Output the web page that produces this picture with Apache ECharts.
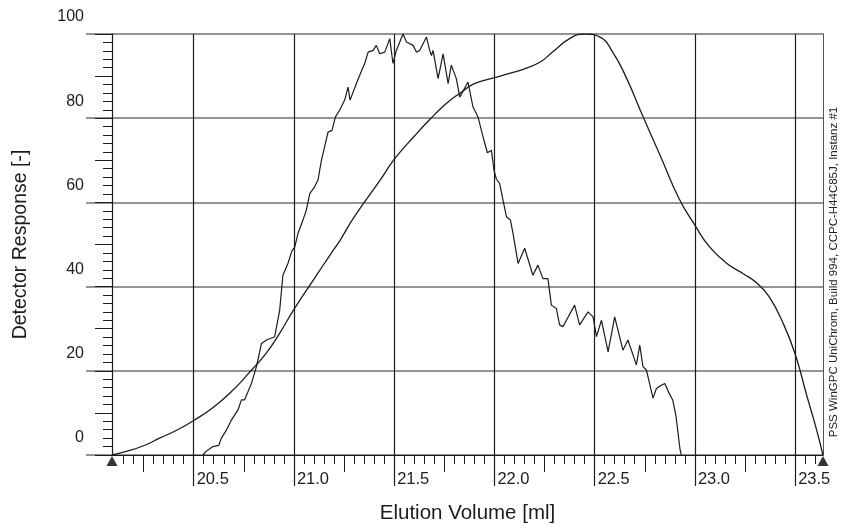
<!DOCTYPE html>
<html>
<head>
<meta charset="utf-8">
<script src="https://cdn.jsdelivr.net/npm/echarts@6/dist/echarts.min.js"></script>
<style>
  html, body { margin: 0; padding: 0; background: #fff; }
  #chart { width: 843px; height: 531px; }
</style>
</head>
<body>
<div id="chart"></div>
<script>
// Axis extents
const volumeRange = [20.0925, 23.639];
const responseRange = [0, 100];

// Tick positions and labels on the elution volume axis
const xMajorTicks = [20.5, 21.0, 21.5, 22.0, 22.5, 23.0, 23.5];
const xMidTicks = [20.25, 20.75, 21.25, 21.75, 22.25, 22.75, 23.25];
const xMinorStep = 0.05;
const xMinorFirst = 20.15;
const xMinorLast = 23.6;

// Response axis ticks
const yMajorStep = 20;
const yMidStep = 10;

// Smooth trace
const smoothVolume = [
  20.0925, 20.16, 20.25, 20.33, 20.42, 20.5, 20.6, 20.7, 20.77, 20.86,
  20.93, 21.0, 21.1, 21.18, 21.23, 21.3, 21.43, 21.5, 21.6, 21.68,
  21.76, 21.83, 21.9, 21.99, 22.08, 22.16, 22.23, 22.29, 22.375, 22.45,
  22.525, 22.59, 22.66, 22.74, 22.83, 22.92, 23.0, 23.07, 23.16, 23.24,
  23.31, 23.37, 23.44, 23.5, 23.56, 23.6, 23.639
];
const smoothResponse = [
  0, 0.8, 2.2, 4.0, 6.0, 8.2, 11.4, 15.6, 19.2, 24.1,
  29.0, 34.6, 41.8, 47.5, 51.0, 56.5, 65.3, 70.2, 75.7, 79.8,
  83.5, 86.0, 88.2, 89.5, 90.7, 91.9, 93.4, 95.7, 98.9, 100,
  99.3, 95.7, 89.4, 80.5, 70.8, 61.0, 54.6, 49.6, 45.5, 43.1,
  40.8, 37.6, 31.3, 24.0, 13.8, 7.2, 0
];

// Noisy trace
const noisyVolume = [
  20.546, 20.56, 20.596, 20.625, 20.638, 20.663, 20.688, 20.721, 20.738, 20.754,
  20.788, 20.813, 20.838, 20.863, 20.904, 20.912, 20.929, 20.945, 20.97, 20.99,
  21.004, 21.02, 21.045, 21.062, 21.079, 21.103, 21.12, 21.137, 21.153, 21.17,
  21.19, 21.207, 21.228, 21.253, 21.27, 21.28, 21.311, 21.328, 21.353, 21.37,
  21.395, 21.411, 21.428, 21.453, 21.478, 21.494, 21.511, 21.544, 21.561, 21.594,
  21.611, 21.627, 21.644, 21.661, 21.677, 21.686, 21.694, 21.719, 21.744, 21.769,
  21.785, 21.81, 21.827, 21.868, 21.893, 21.918, 21.943, 21.965, 21.985, 21.998,
  22.01, 22.026, 22.043, 22.06, 22.08, 22.093, 22.118, 22.151, 22.192, 22.217,
  22.242, 22.267, 22.284, 22.309, 22.325, 22.342, 22.359, 22.4, 22.425, 22.467,
  22.492, 22.509, 22.534, 22.567, 22.6, 22.641, 22.666, 22.708, 22.725, 22.741,
  22.758, 22.791, 22.808, 22.83, 22.85, 22.868, 22.89, 22.906, 22.925, 22.932
];
const noisyResponse = [
  0, 0.8, 2.0, 2.3, 4.0, 5.9, 8.3, 10.7, 13.1, 13.1,
  17.0, 21.0, 26.5, 27.3, 28.1, 27.7, 34.4, 42.7, 45.5, 48.5,
  49.4, 52.6, 55.8, 58.2, 62.1, 63.7, 65.3, 70.0, 73.2, 76.7,
  77.1, 80.3, 81.9, 84.3, 87.4, 84.3, 88.2, 90.2, 93.0, 95.7,
  96.1, 97.3, 95.3, 95.7, 98.9, 93.0, 96.1, 100, 98.1, 97.3,
  95.7, 96.1, 97.7, 99.3, 96.1, 94.9, 96.1, 89.4, 95.3, 88.2,
  92.6, 89.4, 85.0, 88.6, 82.7, 80.3, 75.6, 71.8, 72.4, 67.6,
  65.5, 64.5, 60.5, 56.6, 55.8, 52.6, 45.5, 49.1, 42.7, 45.1,
  41.9, 41.9, 35.6, 34.8, 30.9, 30.5, 32.0, 35.6, 30.9, 34.0,
  32.8, 28.1, 32.0, 24.5, 32.8, 24.9, 27.3, 21.4, 26.1, 21.0,
  20.2, 13.5, 15.8, 16.5, 17.0, 15.0, 13.0, 9.1, 1.6, 0
];

const infoText = 'PSS WinGPC UniChrom, Build 994, CCPC-H44C85J, Instanz #1';
const xTitle = 'Elution Volume [ml]';
const yTitle = 'Detector Response [-]';

// ---- build ----
const FONT = '"Liberation Sans", Arial, Helvetica, sans-serif';
const INK = '#1c1c1c';
const GRID_GRAY = '#707070';

const zip = (xs, ys) => xs.map((x, i) => [x, ys[i]]);

const xMinorTicks = [];
for (let k = 0; ; k++) {
  const v = Math.round((xMinorFirst + k * xMinorStep) * 1000) / 1000;
  if (v > xMinorLast + 1e-9) break;
  xMinorTicks.push(v);
}

const baseX = {
  type: 'value',
  gridIndex: 0,
  position: 'bottom',
  min: volumeRange[0],
  max: volumeRange[1],
  axisLine: { show: false, onZero: false },
  axisTick: { show: false },
  axisLabel: { show: false },
  splitLine: { show: false }
};
const baseY = {
  type: 'value',
  gridIndex: 0,
  position: 'left',
  min: responseRange[0],
  max: responseRange[1],
  axisLine: { show: false, onZero: false },
  axisTick: { show: false },
  axisLabel: { show: false },
  splitLine: { show: false }
};

const option = {
  backgroundColor: '#ffffff',
  animation: false,
  grid: { left: 112, right: 20, top: 34, bottom: 76, containLabel: false },
  xAxis: [
    Object.assign({}, baseX, {
      axisLine: { show: true, onZero: false, lineStyle: { color: INK, width: 1.2 } },
      name: xTitle,
      nameLocation: 'middle',
      nameGap: 48,
      nameTextStyle: { fontFamily: FONT, fontSize: 20.5, color: INK }
    }),
    Object.assign({}, baseX, {
      axisTick: { show: true, customValues: xMinorTicks, length: 9, lineStyle: { color: INK, width: 1 } }
    }),
    Object.assign({}, baseX, {
      axisTick: { show: true, customValues: xMidTicks, length: 17, lineStyle: { color: INK, width: 1 } }
    }),
    Object.assign({}, baseX, {
      axisTick: { show: true, customValues: xMajorTicks, length: 31, lineStyle: { color: INK, width: 1.2 } },
      axisLabel: {
        show: true,
        customValues: xMajorTicks,
        formatter: v => v.toFixed(1),
        align: 'left',
        padding: [0, 0, 0, 3],
        margin: 16,
        fontFamily: FONT,
        fontSize: 16.5,
        color: INK
      },
      splitLine: { show: true, lineStyle: { color: INK, width: 1.2 } }
    })
  ],
  yAxis: [
    Object.assign({}, baseY, {
      interval: yMajorStep,
      axisLine: { show: true, onZero: false, lineStyle: { color: INK, width: 1.2 } },
      axisTick: { show: true, length: 26, lineStyle: { color: GRID_GRAY, width: 1.5 } },
      minorTick: { show: true, splitNumber: yMajorStep / 2, length: 9, lineStyle: { color: INK, width: 1 } },
      axisLabel: {
        show: true,
        margin: 28,
        verticalAlign: 'bottom',
        padding: [0, 0, 9, 0],
        fontFamily: FONT,
        fontSize: 16,
        color: INK
      },
      splitLine: { show: true, lineStyle: { color: GRID_GRAY, width: 1.5 } },
      name: yTitle,
      nameLocation: 'middle',
      nameGap: 81,
      nameTextStyle: { fontFamily: FONT, fontSize: 19.5, color: INK }
    }),
    Object.assign({}, baseY, {
      interval: yMidStep,
      axisTick: { show: true, length: 17, lineStyle: { color: INK, width: 1 } }
    }),
    Object.assign({}, baseY, {
      position: 'right',
      axisLine: { show: true, onZero: false, lineStyle: { color: '#555', width: 1 } }
    })
  ],
  series: [
    {
      type: 'line',
      xAxisIndex: 0,
      yAxisIndex: 0,
      data: zip(smoothVolume, smoothResponse),
      showSymbol: false,
      smooth: 0.5,
      lineStyle: { color: INK, width: 1.3 },
      markPoint: {
        symbol: 'triangle',
        symbolSize: [11, 10],
        symbolOffset: [0, 6],
        label: { show: false },
        itemStyle: { color: '#333' },
        data: [
          { coord: [volumeRange[0], responseRange[0]] },
          { coord: [volumeRange[1], responseRange[0]] }
        ]
      }
    },
    {
      type: 'line',
      xAxisIndex: 0,
      yAxisIndex: 0,
      data: zip(noisyVolume, noisyResponse),
      showSymbol: false,
      lineStyle: { color: INK, width: 1.2 }
    }
  ],
  graphic: [
    {
      type: 'text',
      x: 834,
      y: 272,
      rotation: Math.PI / 2,
      style: {
        text: infoText,
        fontFamily: FONT,
        fontSize: 11.5,
        fill: '#222',
        textAlign: 'center',
        textVerticalAlign: 'middle'
      }
    }
  ]
};

const chart = echarts.init(document.getElementById('chart'), null, { renderer: 'canvas' });
chart.setOption(option);
</script>
</body>
</html>
